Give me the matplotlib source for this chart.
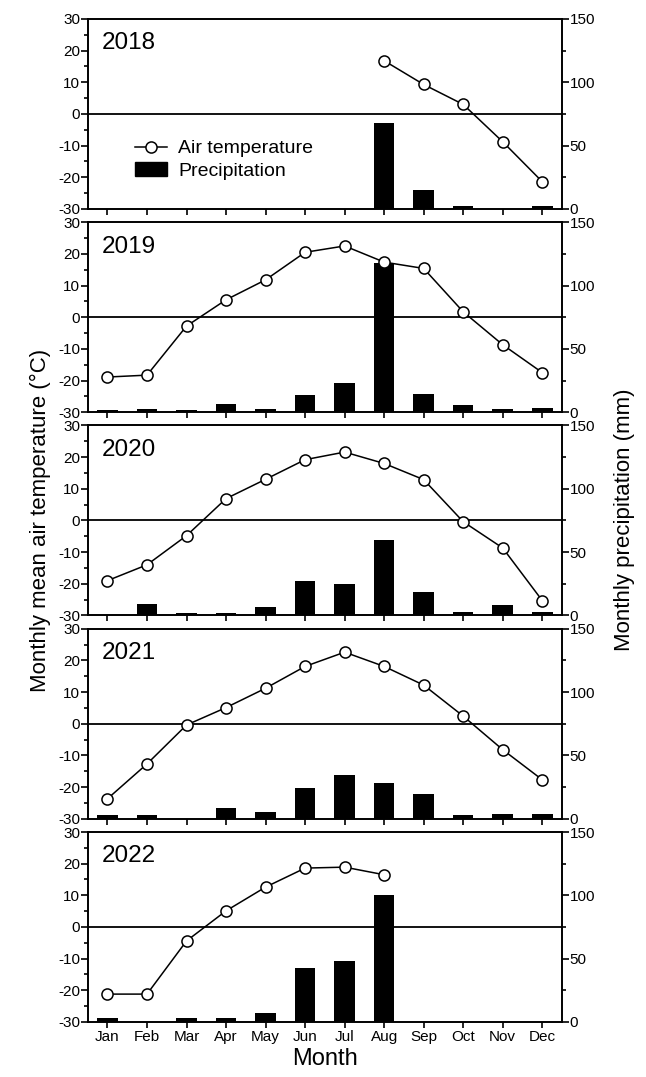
import numpy as np
import matplotlib
matplotlib.use("Agg")
from matplotlib import pyplot as plt
from matplotlib.lines import Line2D
import matplotlib.patches as mpatches
from matplotlib.ticker import MultipleLocator

plt.rcParams['font.family'] = ['Liberation Sans', 'DejaVu Sans']
plt.rcParams['axes.unicode_minus'] = False

months = ["Jan", "Feb", "Mar", "Apr", "May", "Jun", "Jul", "Aug", "Sep", "Oct", "Nov", "Dec"]
years = ["2018", "2019", "2020", "2021", "2022"]
nan = np.nan

# monthly mean air temperature (degC)
temp_2018 = [nan, nan, nan, nan, nan, nan, nan, 16.8, 9.3, 3.0, -8.8, -21.4]
temp_2019 = [-18.9, -18.3, -2.8, 5.5, 11.8, 20.5, 22.5, 17.4, 15.4, 1.7, -8.7, -17.5]
temp_2020 = [-19.0, -14.0, -4.8, 6.9, 13.0, 19.2, 21.6, 18.0, 12.9, -0.4, -8.7, -25.3]
temp_2021 = [-23.7, -12.7, -0.4, 5.1, 11.2, 18.1, 22.6, 18.1, 12.2, 2.4, -8.2, -17.7]
temp_2022 = [-21.2, -21.2, -4.4, 5.1, 12.6, 18.6, 18.9, 16.5, nan, nan, nan, nan]

# monthly precipitation (mm)
prec_2018 = [0, 0, 0, 0, 0, 0, 0, 67.5, 15.2, 2.2, 0, 2.2]
prec_2019 = [2.0, 2.8, 2.0, 6.6, 2.8, 13.4, 23.2, 117.6, 14.5, 5.5, 2.8, 3.6]
prec_2020 = [0, 9.2, 2.0, 2.0, 6.6, 27.3, 24.9, 59.6, 18.4, 2.8, 8.4, 2.8]
prec_2021 = [2.8, 2.8, 0, 8.7, 5.5, 24.5, 34.5, 28.5, 19.8, 2.8, 3.7, 3.7]
prec_2022 = [2.8, 0, 2.8, 2.8, 6.8, 42.3, 48.0, 100.0, nan, nan, nan, nan]

temps = [temp_2018, temp_2019, temp_2020, temp_2021, temp_2022]
precs = [prec_2018, prec_2019, prec_2020, prec_2021, prec_2022]

fig, axes = plt.subplots(5, 1, figsize=(6.46, 10.77), dpi=100, sharex=False)
fig.subplots_adjust(left=0.1358, right=0.870, top=0.9824, bottom=0.0511, hspace=0.07)

x = np.arange(len(months))
lw = 1.2

for i, ax in enumerate(axes):
    ax2 = ax.twinx()
    ax2.bar(x, precs[i], width=0.52, color="black", linewidth=0)
    ax2.set_ylim(0, 150)
    ax2.yaxis.set_major_locator(MultipleLocator(50))
    ax2.yaxis.set_minor_locator(MultipleLocator(25))
    ax2.tick_params(axis="y", which="major", direction="out", length=5, width=lw, pad=0.5, labelsize=11)
    ax2.tick_params(axis="y", which="minor", direction="out", length=3, width=lw)

    ax.set_zorder(ax2.get_zorder() + 1)
    ax.patch.set_visible(False)
    ax.axhline(0, color="black", linewidth=1.3, zorder=1)
    ax.plot(x, temps[i], color="black", linewidth=1.1, marker="o", markersize=8,
            markerfacecolor="white", markeredgecolor="black", markeredgewidth=1.1, zorder=3)
    ax.set_xlim(-0.5, 11.5)
    ax.set_ylim(-30, 30)
    ax.yaxis.set_major_locator(MultipleLocator(10))
    ax.yaxis.set_minor_locator(MultipleLocator(5))
    ax.set_xticks(x)
    ax.tick_params(axis="y", which="major", direction="out", length=5, width=lw, pad=0.5, labelsize=11)
    ax.tick_params(axis="y", which="minor", direction="out", length=3, width=lw)
    ax.tick_params(axis="x", direction="out", length=4, width=lw, pad=2, labelsize=11)
    if i < 4:
        ax.set_xticklabels([])
    else:
        ax.set_xticklabels(months)
    for a in (ax, ax2):
        for s in a.spines.values():
            s.set_linewidth(lw)
    ax.text(0.03, 0.93, years[i], transform=ax.transAxes, fontsize=17.5, va="top", ha="left")

    if i == 0:
        handles = [Line2D([], [], color="black", linewidth=1.1, marker="o", markersize=8,
                          markerfacecolor="white", markeredgewidth=1.1),
                   mpatches.Patch(facecolor="black", edgecolor="black")]
        ax.legend(handles, ["Air temperature", "Precipitation"], loc="upper left",
                  bbox_to_anchor=(0.08, 0.415), frameon=False, fontsize=14,
                  handlelength=1.6, handletextpad=0.6, labelspacing=0.25, borderpad=0)

axes[-1].set_xlabel("Month", fontsize=17, labelpad=3)
fig.text(0.062, 0.517, "Monthly mean air temperature (\u00b0C)", rotation=90,
         fontsize=16, ha="center", va="center")
fig.text(0.967, 0.517, "Monthly precipitation (mm)", rotation=90,
         fontsize=16, ha="center", va="center")

fig.savefig("out.png", dpi=100)
